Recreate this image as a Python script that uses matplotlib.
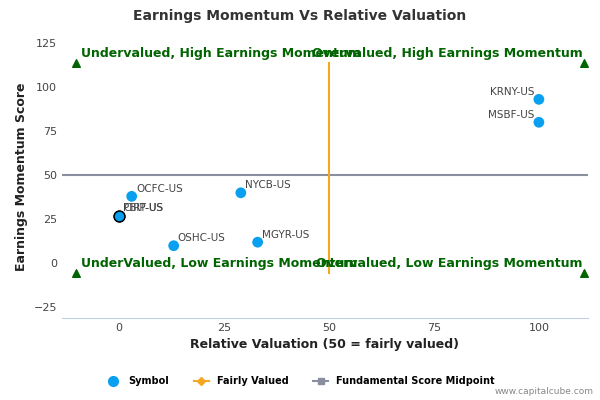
import matplotlib
matplotlib.use("Agg")
import matplotlib.pyplot as plt

symbols = ["KRNY-US", "MSBF-US", "NYCB-US", "OCFC-US", "MGYR-US", "OSHC-US", "PBIP-US", "CIRT-US"]
valuation = [100, 100, 29, 3, 33, 13, 0, 0]
momentum = [93, 80, 40, 38, 12, 10, 27, 27]
quad_labels = ["Undervalued, High Earnings Momentum", "Overvalued, High Earnings Momentum",
               "UnderValued, Low Earnings Momentum", "Overvalued, Low Earnings Momentum"]
xticks = [0, 25, 50, 75, 100]
yticks = [-25, 0, 25, 50, 75, 100, 125]

fig = plt.figure(figsize=(6, 4), dpi=100)
ax = fig.add_axes([62/600, 82/400, 526/600, 283/400])
xmin, xmax, ymin, ymax = -13.6, 111.7, -31, 129.5
ax.set_xlim(xmin, xmax); ax.set_ylim(ymin, ymax)
for s in ax.spines.values(): s.set_visible(False)
ax.spines['bottom'].set_visible(True); ax.spines['bottom'].set_color('#c0d0e0')
ax.set_xticks(xticks); ax.set_yticks(yticks)
ax.tick_params(length=0, labelsize=8, colors='#444444')
ax.axhline(50, color='#8a8fa0', lw=1.5, zorder=1)
ax.plot([50, 50], [-5.7, 113.6], color='#f5a623', lw=1.5, zorder=1)
ax.scatter([-10.2, 110.7, -10.2, 110.7], [113.6, 113.6, -5.7, -5.7], marker='^', color='#006400', s=30, zorder=3)
gt = dict(color='#006400', fontsize=9, fontweight='bold')
ax.text(-9, 115.5, quad_labels[0], ha='left', va='bottom', **gt)
ax.text(110.5, 115.5, quad_labels[1], ha='right', va='bottom', **gt)
ax.text(-9, -4, quad_labels[2], ha='left', va='bottom', **gt)
ax.text(110.5, -4, quad_labels[3], ha='right', va='bottom', **gt)
for i, (s, x, y) in enumerate(zip(symbols, valuation, momentum)):
    ec = 'black' if s in ("PBIP-US", "CIRT-US") else 'none'
    ax.scatter(x, y, s=60, color='#0aa0f0', edgecolors=ec, zorder=4)
    ha = 'right' if x >= 100 else 'left'
    dx = -1 if x >= 100 else 1
    ax.text(x + dx, y + 1.5, s, ha=ha, va='bottom', fontsize=7.5, color='#444444', zorder=5)
ax.set_xlabel("Relative Valuation (50 = fairly valued)", fontsize=9, fontweight='bold', color='#222222')
ax.set_ylabel("Earnings Momentum Score", fontsize=9, fontweight='bold', color='#222222')
fig.text(0.5, 0.96, "Earnings Momentum Vs Relative Valuation", ha='center', va='center', fontsize=10, fontweight='bold', color='#333333')
from matplotlib.lines import Line2D
h = [Line2D([], [], marker='o', ls='', color='#0aa0f0', ms=7),
     Line2D([], [], marker='D', color='#f5a623', ms=4, lw=1.5),
     Line2D([], [], marker='s', color='#8a8fa0', ms=5, lw=1.5)]
leg = fig.legend(h, ["Symbol", "Fairly Valued", "Fundamental Score Midpoint"], loc='center', bbox_to_anchor=(0.5, 0.047),
                 ncol=3, frameon=False, prop={'size': 7, 'weight': 'bold'}, handlelength=1.6, columnspacing=2.5)
fig.text(0.99, 0.01, "www.capitalcube.com", ha='right', va='bottom', fontsize=6.5, color='#888888')
fig.savefig("out.png", dpi=100)
